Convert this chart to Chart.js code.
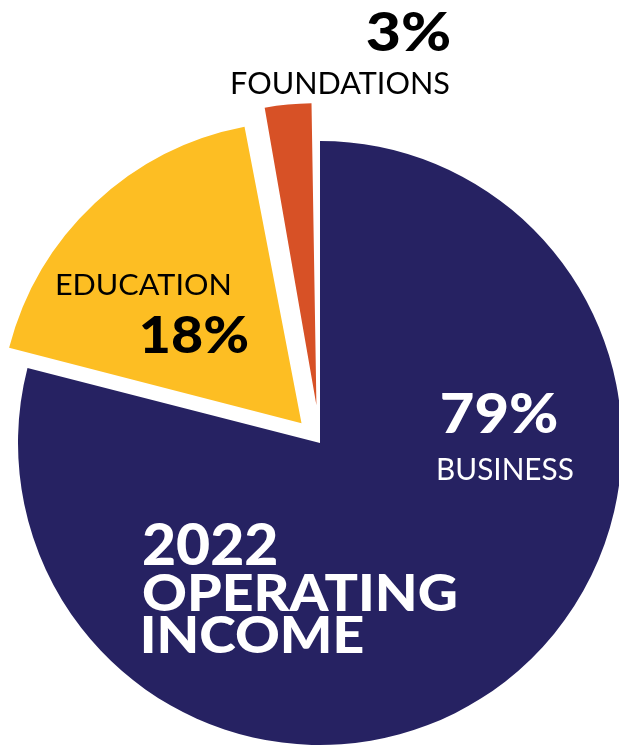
<!DOCTYPE html>
<html>
<head>
<meta charset="utf-8">
<script src="https://cdn.jsdelivr.net/npm/chart.js@4/dist/chart.umd.min.js"></script>
<style>
  html, body { margin: 0; padding: 0; background: #fff; }
  #wrap { position: relative; width: 619px; height: 746px; overflow: hidden; }
</style>
</head>
<body>
<div id="wrap"><canvas id="pie"></canvas></div>
<script>
const categories = ['Business', 'Education', 'Foundations'];
const shares = [79, 18, 3];
const sliceColors = ['#262262', '#FDBE23', '#D75126'];

// text blocks drawn on top, each fitted into its box (left, right, top, bottom)
const labelBoxes = [
  { text: '3%',          box: [367, 450, 12, 51],  weight: '900', color: '#000' },
  { text: 'FOUNDATIONS', box: [232, 449, 71, 94],  weight: '400', color: '#000' },
  { text: 'EDUCATION',   box: [57, 229, 273, 295], weight: '400', color: '#000' },
  { text: '18%',         box: [142, 248, 315, 353], weight: '900', color: '#000' },
  { text: '79%',         box: [442, 557, 393, 433], weight: '900', color: '#fff' },
  { text: 'BUSINESS',    box: [438, 573, 457, 480], weight: '400', color: '#fff' },
  { text: '2022',        box: [143, 276, 523, 565], weight: '900', color: '#fff' },
  { text: 'OPERATING',   box: [143, 456, 573, 611], weight: '900', color: '#fff' },
  { text: 'INCOME',      box: [143, 363, 616, 653], weight: '900', color: '#fff' }
];

const FAMILY = 'Lato, "Open Sans", sans-serif';

function drawFitted(ctx, item) {
  const [l, r, t, b] = item.box;
  ctx.save();
  ctx.font = item.weight + ' 100px ' + FAMILY;
  let m = ctx.measureText(item.text);
  const inkH = m.actualBoundingBoxAscent;
  const size = (b - t) / inkH * 100;
  ctx.font = item.weight + ' ' + size + 'px ' + FAMILY;
  m = ctx.measureText(item.text);
  const inkW = m.actualBoundingBoxLeft + m.actualBoundingBoxRight;
  const sx = (r - l) / inkW;
  ctx.translate(l, b);
  ctx.scale(sx, 1);
  ctx.fillStyle = item.color;
  ctx.textBaseline = 'alphabetic';
  ctx.textAlign = 'left';
  ctx.fillText(item.text, m.actualBoundingBoxLeft, 0);
  ctx.restore();
}

const textPlugin = {
  id: 'pieText',
  afterDraw(chart) {
    labelBoxes.forEach(item => drawFitted(chart.ctx, item));
  }
};

// chart.js grows an offset arc's radius (more for thin slices); undo that so
// the exploded slices keep the same radius as the main one
const keepRadius = {
  id: 'keepRadius',
  beforeDatasetsDraw(chart) {
    const meta = chart.getDatasetMeta(0);
    const base = meta.controller.outerRadius;
    meta.data.forEach(arc => {
      const off = (arc.options.offset || 0) / 4;
      const fix = 1 - Math.sin(Math.min(Math.PI, arc.circumference || 0));
      arc.outerRadius = base - off * fix;
    });
  }
};

// chart.js v4 moves an arc by offset / 4 px
new Chart(document.getElementById('pie'), {
  type: 'pie',
  data: {
    labels: categories,
    datasets: [{
      data: shares,
      backgroundColor: sliceColors,
      borderWidth: 0,
      offset: [0, 108, 152],
      clip: false
    }]
  },
  options: {
    responsive: true,
    maintainAspectRatio: false,
    animation: false,
    radius: 302,
    rotation: 0,
    layout: { padding: { top: 140, left: 21, right: 0, bottom: 0 } },
    plugins: {
      legend: { display: false },
      tooltip: { enabled: false }
    }
  },
  plugins: [keepRadius, textPlugin]
});
</script>
</body>
</html>
